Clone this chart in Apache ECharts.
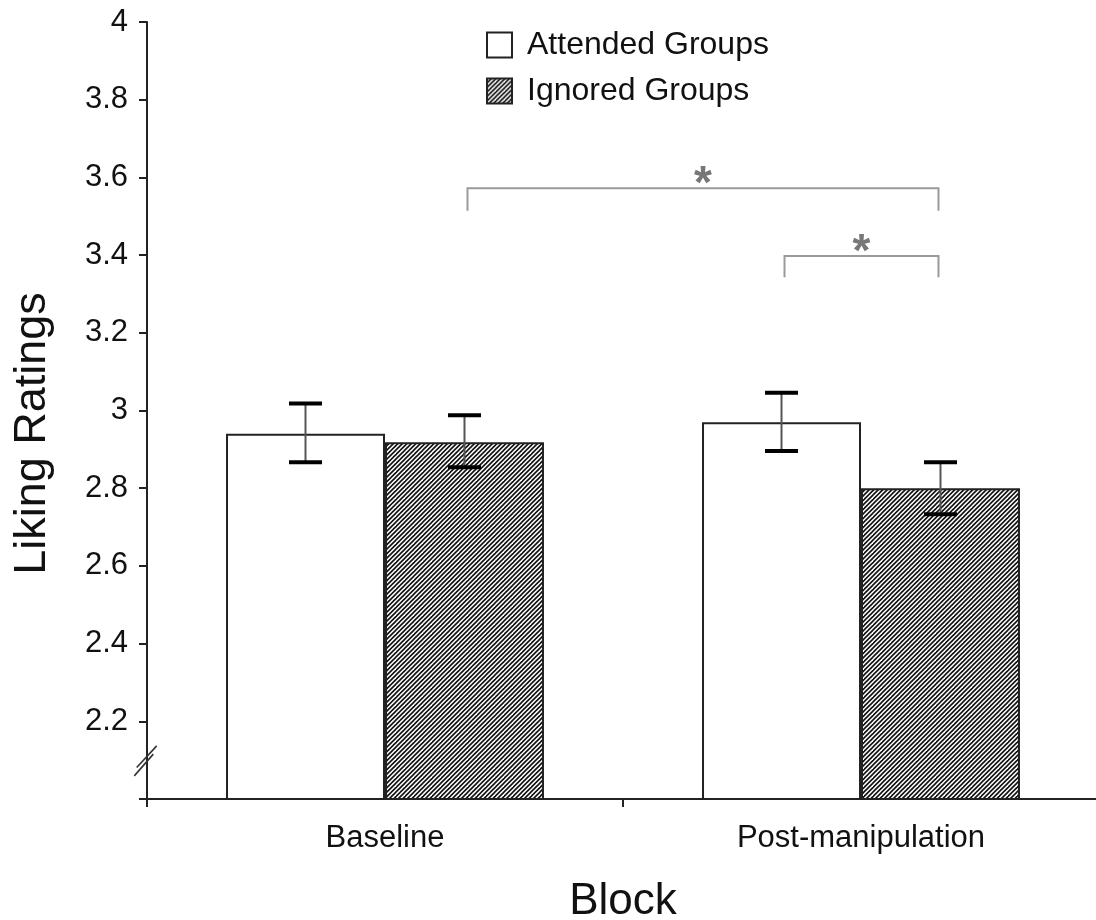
<!DOCTYPE html>
<html>
<head>
<meta charset="utf-8">
<script src="https://cdn.jsdelivr.net/npm/echarts@6/dist/echarts.min.js"></script>
<style>html,body{margin:0;padding:0;background:#fff}#c{width:1096px;height:920px}</style>
</head>
<body>
<div id="c"></div>
<script>
const categories = ['Baseline', 'Post-manipulation'];
const seriesNames = ['Attended Groups', 'Ignored Groups'];
const attended = [2.94, 2.97];
const ignored = [2.918, 2.80];
const attendedLow = [2.867, 2.896];
const attendedHigh = [3.018, 3.046];
const ignoredLow = [2.854, 2.733];
const ignoredHigh = [2.988, 2.867];
// significance brackets: from (category, side) to (category, side); side -1 = attended, +1 = ignored
const bracketFromCat = [0, 1];
const bracketFromSide = [1, -1];
const bracketToCat = [1, 1];
const bracketToSide = [1, 1];
const bracketTop = [3.572, 3.398];
const bracketLegEnd = [3.514, 3.343];
const bracketLabel = ['*', '*'];
const breakValue = 2.1;

function hatchCanvas() {
  const s = 9;
  const c = document.createElement('canvas');
  c.width = s; c.height = s;
  const g = c.getContext('2d');
  g.fillStyle = '#fff';
  g.fillRect(0, 0, s, s);
  g.strokeStyle = '#111';
  g.lineWidth = 1.6;
  [-9, -4.5, 0, 4.5, 9, 13.5, 18].forEach(k => {
    g.beginPath();
    g.moveTo(k + 1, -1);
    g.lineTo(k - s - 1, s + 1);
    g.stroke();
  });
  return c;
}

const BAR_FRAC = 0.334;
const chart = echarts.init(document.getElementById('c'), null, {renderer: 'canvas'});
const FONT = '"Liberation Sans", Arial, sans-serif';

const errData = [];
categories.forEach((c, i) => {
  errData.push([i, attendedLow[i], attendedHigh[i], -1]);
  errData.push([i, ignoredLow[i], ignoredHigh[i], 1]);
});
const brData = bracketTop.map((t, i) => [bracketFromCat[i], bracketFromSide[i], bracketToCat[i], bracketToSide[i], t, bracketLegEnd[i], i]);

chart.setOption({
  animation: false,
  backgroundColor: '#fff',
  textStyle: {fontFamily: FONT},
  grid: {left: 147, right: -3, top: 22, bottom: 121, containLabel: false, outerBoundsMode: 'none'},
  legend: {
    data: seriesNames,
    orient: 'vertical',
    left: 486, top: 29,
    padding: 0,
    icon: 'rect',
    itemWidth: 25, itemHeight: 25,
    itemGap: 14,
    textStyle: {fontSize: 32, color: '#111', fontFamily: FONT, padding: [0, 0, 0, 10]},
    selectedMode: false
  },
  xAxis: {
    type: 'category',
    data: categories,
    name: 'Block',
    nameLocation: 'middle',
    nameGap: 81,
    nameTextStyle: {fontSize: 44, color: '#111', fontFamily: FONT},
    axisLine: {lineStyle: {color: '#222', width: 2}},
    axisTick: {show: true, length: 8, lineStyle: {color: '#222', width: 2}},
    axisLabel: {fontSize: 31, color: '#111', margin: 24, fontFamily: FONT},
    splitLine: {show: false}
  },
  yAxis: {
    type: 'value',
    min: 2, max: 4, interval: 0.2,
    name: 'Liking Ratings',
    nameLocation: 'middle',
    nameGap: 92,
    nameTextStyle: {fontSize: 45, color: '#111', fontFamily: FONT, padding: [0, 46, 0, 0]},
    axisLine: {show: true, lineStyle: {color: '#222', width: 2}},
    axisTick: {show: true, length: 8, lineStyle: {color: '#222', width: 2}},
    axisLabel: {fontSize: 31, color: '#111', margin: 19, fontFamily: FONT,
      formatter: v => (Math.abs(v - 2) < 1e-9 ? '' : String(Math.round(v * 10) / 10))},
    splitLine: {show: false}
  },
  series: [
    {
      name: seriesNames[0], type: 'bar', data: attended,
      barWidth: (BAR_FRAC * 100) + '%', barGap: '0%',
      itemStyle: {color: '#fff', borderColor: '#222', borderWidth: 2}
    },
    {
      name: seriesNames[1], type: 'bar', data: ignored,
      barWidth: (BAR_FRAC * 100) + '%', barGap: '0%',
      itemStyle: {color: {image: hatchCanvas(), repeat: 'repeat'}, borderColor: '#222', borderWidth: 2}
    },
    {
      type: 'custom', name: 'err', data: errData, z: 5, clip: false,
      renderItem: function (params, api) {
        const cat = api.value(0);
        const lo = api.coord([cat, api.value(1)]);
        const hi = api.coord([cat, api.value(2)]);
        const band = api.size([1, 0])[0];
        const x = lo[0] + api.value(3) * band * BAR_FRAC / 2;
        const hw = 16.5;
        return {type: 'group', children: [
          {type: 'line', shape: {x1: x, y1: hi[1], x2: x, y2: lo[1]}, style: {stroke: '#555', lineWidth: 2}},
          {type: 'line', shape: {x1: x - hw, y1: hi[1], x2: x + hw, y2: hi[1]}, style: {stroke: '#000', lineWidth: 4}},
          {type: 'line', shape: {x1: x - hw, y1: lo[1], x2: x + hw, y2: lo[1]}, style: {stroke: '#000', lineWidth: 4}}
        ]};
      }
    },
    {
      type: 'custom', name: 'brackets', data: brData, z: 5, clip: false,
      renderItem: function (params, api) {
        const band = api.size([1, 0])[0];
        const a = api.coord([api.value(0), api.value(4)]);
        const b = api.coord([api.value(2), api.value(4)]);
        const leg = api.coord([api.value(0), api.value(5)])[1];
        const x1 = a[0] + api.value(1) * band * BAR_FRAC / 2 + 3;
        const x2 = b[0] + api.value(3) * band * BAR_FRAC / 2 - 2;
        const y = a[1];
        return {type: 'group', children: [
          {type: 'polyline', shape: {points: [[x1, leg], [x1, y], [x2, y], [x2, leg]]},
            style: {stroke: '#9a9a9a', lineWidth: 2, fill: null}},
          {type: 'text', x: (x1 + x2) / 2, y: y - 3,
            style: {text: bracketLabel[api.value(6)], fontSize: 46, fontWeight: 'bold', fill: '#777',
              fontFamily: FONT, align: 'center', verticalAlign: 'middle'}}
        ]};
      }
    },
    {
      type: 'custom', name: 'break', data: [[0, breakValue]], z: 6, clip: false,
      renderItem: function (params, api) {
        const p = api.coord([api.value(0), api.value(1)]);
        const band = api.size([1, 0])[0];
        const ax = p[0] - band / 2;
        const cy = p[1];
        return {type: 'group', children: [
          {type: 'line', shape: {x1: ax - 12.7, y1: cy + 15.7, x2: ax + 6.3, y2: cy - 6}, style: {stroke: '#333', lineWidth: 1.6}},
          {type: 'line', shape: {x1: ax - 10.3, y1: cy + 7.3, x2: ax + 9.7, y2: cy - 14.3}, style: {stroke: '#333', lineWidth: 1.6}}
        ]};
      }
    }
  ]
});
</script>
</body>
</html>
